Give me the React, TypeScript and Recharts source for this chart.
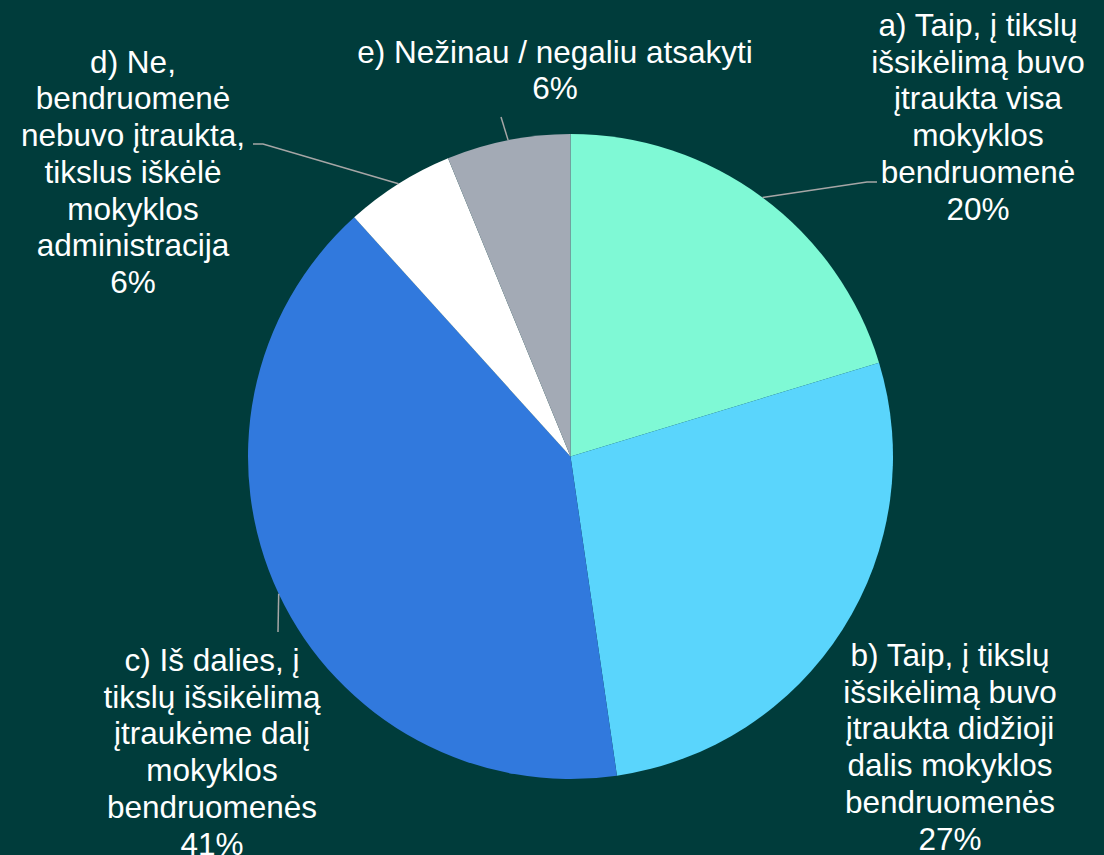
import React from "react";
import { PieChart, Pie, Cell } from "recharts";

const categories: string[][] = [
  ["a) Taip, į tikslų", "išsikėlimą buvo", "įtraukta visa", "mokyklos", "bendruomenė"],
  ["b) Taip, į tikslų", "išsikėlimą buvo", "įtraukta didžioji", "dalis mokyklos", "bendruomenės"],
  ["c) Iš dalies, į", "tikslų išsikėlimą", "įtraukėme dalį", "mokyklos", "bendruomenės"],
  ["d) Ne,", "bendruomenė", "nebuvo įtraukta,", "tikslus iškėlė", "mokyklos", "administracija"],
  ["e) Nežinau / negaliu atsakyti"],
];
const values: number[] = [20.3, 27.4, 40.6, 5.5, 6.2];
const percentLabels: string[] = ["20%", "27%", "41%", "6%", "6%"];

const colors = ["#7ff9d5", "#5ad5fc", "#3179dd", "#ffffff", "#a3aab5"];
const BG = "#003c3b";
const LEADER = "#a6a6a6";

// label layout relative to pie centre: text centre x, first line centre y, leader points
const layout = [
  { tx: 407.5, ty: -431.5, leader: [[296.5, -274.5], [306.5, -274.5]] },
  { tx: 379.5, ty: 198.5, leader: [] as number[][] },
  { tx: -358.5, ty: 203.5, leader: [[-292.5, 175.5]] },
  { tx: -437.5, ty: -394.8, leader: [[-307.5, -312.5], [-317.5, -312.5]] },
  { tx: -15.5, ty: -404.8, leader: [[-69.5, -339.5]] },
];

const data = categories.map((c, i) => ({ name: c.join(" "), value: values[i] }));

const FONT = 31.5;
const LH = 36.7;

const renderLabel = (props: any) => {
  const { cx, cy, midAngle, outerRadius, index } = props;
  const RAD = Math.PI / 180;
  const sx = cx + outerRadius * Math.cos(-midAngle * RAD);
  const sy = cy + outerRadius * Math.sin(-midAngle * RAD);
  const l = layout[index];
  const lines = [...categories[index], percentLabels[index]];
  const pts = [[sx, sy], ...l.leader.map((p) => [cx + p[0], cy + p[1]])];
  return (
    <g key={`lbl-${index}`}>
      {pts.length > 1 && (
        <polyline
          points={pts.map((p) => `${p[0]},${p[1]}`).join(" ")}
          fill="none"
          stroke={LEADER}
          strokeWidth={1.5}
        />
      )}
      {lines.map((t, k) => (
        <text
          key={k}
          x={cx + l.tx}
          y={cy + l.ty + k * LH}
          textAnchor="middle"
          dominantBaseline="central"
          fill="#ffffff"
          fontSize={FONT}
          fontFamily="'Liberation Sans', Arial, sans-serif"
        >
          {t}
        </text>
      ))}
    </g>
  );
};

export default function App() {
  return (
    <div
      style={{
        position: "absolute",
        left: 0,
        top: 0,
        width: 1104,
        height: 855,
        background: BG,
        overflow: "hidden",
      }}
    >
      <PieChart width={1104} height={855} margin={{ top: 0, right: 0, bottom: 0, left: 0 }}>
        <Pie
          data={data}
          dataKey="value"
          nameKey="name"
          cx={570.5}
          cy={456.5}
          outerRadius={322.5}
          startAngle={90}
          endAngle={-270}
          stroke="none"
          label={renderLabel}
          labelLine={false}
          isAnimationActive={false}
        >
          {data.map((d, i) => (
            <Cell key={d.name} fill={colors[i]} />
          ))}
        </Pie>
      </PieChart>
    </div>
  );
}
